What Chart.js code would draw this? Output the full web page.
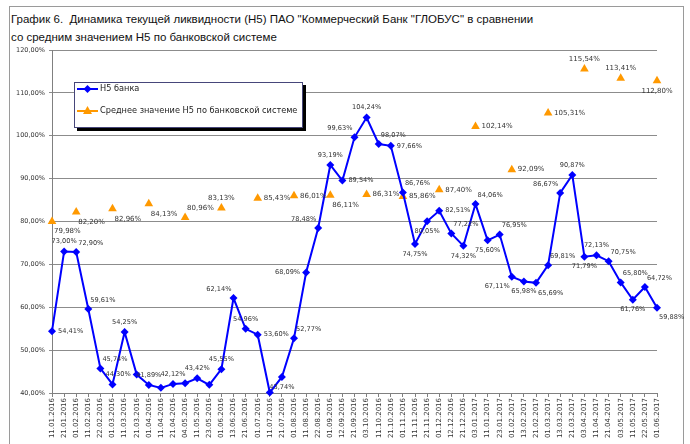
<!DOCTYPE html>
<html>
<head>
<meta charset="utf-8">
<script src="https://cdn.jsdelivr.net/npm/chart.js@4/dist/chart.umd.min.js"></script>
<style>
  html, body { margin: 0; padding: 0; background: #fff; }
  #wrap { position: relative; width: 690px; height: 444px; overflow: hidden; }
  #frame { position: absolute; left: 9px; top: 6px; width: 675px; height: 460px; border: 1px solid #9a9a9a; box-sizing: border-box; }
  #title { position: absolute; left: 11px; top: 10px; font-family: "Liberation Sans", Arial, sans-serif; font-size: 11.5px; line-height: 18px; color: #111; white-space: nowrap; }
  canvas { position: absolute; left: 0; top: 0; }
</style>
</head>
<body>
<div id="wrap">
  <div id="frame"></div>
  <div id="title">График 6.&nbsp; Динамика текущей ликвидности (Н5) ПАО "Коммерческий Банк "ГЛОБУС" в сравнении<br>со средним значением Н5 по банковской системе</div>
  <canvas id="c" width="690" height="444"></canvas>
</div>
<script>
const categories = [
  "11.01.2016","21.01.2016","01.02.2016","11.02.2016","22.02.2016","01.03.2016","11.03.2016","21.03.2016",
  "01.04.2016","11.04.2016","21.04.2016","04.05.2016","11.05.2016","23.05.2016","01.06.2016","13.06.2016",
  "21.06.2016","01.07.2016","11.07.2016","21.07.2016","01.08.2016","11.08.2016","22.08.2016","01.09.2016",
  "12.09.2016","21.09.2016","03.10.2016","11.10.2016","21.10.2016","01.11.2016","11.11.2016","21.11.2016",
  "01.12.2016","12.12.2016","21.12.2016","03.01.2017","11.01.2017","23.01.2017","01.02.2017","13.02.2017",
  "21.02.2017","01.03.2017","13.03.2017","21.03.2017","03.04.2017","11.04.2017","21.04.2017","03.05.2017",
  "11.05.2017","22.05.2017","01.06.2017"
];
const bankH5 = [
  54.41, 73.00, 72.90, 59.61, 45.74, 42.00, 54.25, 44.30,
  41.89, 41.20, 42.12, 42.30, 43.42, 41.90, 45.55, 62.14,
  54.96, 53.60, 40.10, 43.74, 52.77, 68.09, 78.48, 93.19,
  89.54, 99.63, 104.24, 98.07, 97.66, 86.76, 74.75, 80.05,
  82.51, 77.22, 74.32, 84.06, 75.60, 76.95, 67.11, 65.98,
  65.69, 69.81, 86.67, 90.87, 71.79, 72.13, 70.75, 65.80,
  61.76, 64.72, 59.88
];
const systemH5 = [
  79.98, null, 82.20, null, null, 82.96, null, null,
  84.13, null, null, 80.96, null, null, 83.13, null,
  null, 85.43, null, null, 86.01, null, null, 86.11,
  null, null, 86.31, null, null, 85.86, null, null,
  87.40, null, null, 102.14, null, null, 92.09, null,
  null, 105.31, null, null, 115.54, null, null, 113.41,
  null, null, 112.80
];
const yTicks = [40, 50, 60, 70, 80, 90, 100, 110, 120];
const seriesNames = ["Н5 банка", "Среднее значение Н5 по банковской системе"];

// label placement (layout only)
const bankLabelPos = [
  "r","t","tr","tr","tr",null,"t","l",
  "t",null,"t",null,"t",null,"t","tl",
  "t","r",null,"b","tr","l","tl","t",
  "r","tl","t","tr","r","tr","b","b",
  "r","tr","b","tr","b","tr","bl","b",
  "br","tr","tl","t","b","t","tr","tr",
  "b","tr","br"
];
const sysLabelPos = [
  "br",null,"br",null,null,"br",null,null,
  "br",null,null,"tr",null,null,"t",null,
  null,"r",null,null,"r",null,null,"br",
  null,null,"r",null,null,"r",null,null,
  "r",null,null,"r",null,null,"r",null,
  null,"r",null,null,"t",null,null,"t",
  null,null,"b"
];

const fmt = v => v.toFixed(2).replace('.', ',') + '%';

const labelPlugin = {
  id: 'valLabels',
  afterDatasetsDraw(chart) {
    const ctx = chart.ctx;
    const cfgs = [
      { pos: bankLabelPos, font: '6.6px "DejaVu Sans"' },
      { pos: sysLabelPos, font: '7px "DejaVu Sans"' }
    ];
    chart.data.datasets.forEach((ds, di) => {
      const meta = chart.getDatasetMeta(di);
      const cfg = cfgs[di];
      meta.data.forEach((pt, i) => {
        const v = ds.data[i];
        const p = cfg.pos[i];
        if (v == null || !p) return;
        let x = pt.x, y = pt.y, align = 'center';
        const d = 10;
        switch (p) {
          case 't': y -= d; break;
          case 'b': y += d; break;
          case 'r': x += 6; align = 'left'; break;
          case 'l': x -= 6; align = 'right'; break;
          case 'tr': x += 2; y -= d - 1; align = 'left'; break;
          case 'tl': x -= 2; y -= d - 1; align = 'right'; break;
          case 'br': x += 2; y += d; align = 'left'; break;
          case 'bl': x -= 2; y += d; align = 'right'; break;
        }
        ctx.save();
        ctx.font = cfg.font;
        ctx.fillStyle = '#333';
        ctx.textAlign = align;
        ctx.textBaseline = 'middle';
        ctx.fillText(fmt(v), x, y);
        ctx.restore();
      });
    });
  }
};

const legendPlugin = {
  id: 'boxLegend',
  afterDraw(chart) {
    const ctx = chart.ctx;
    const x0 = 74, y0 = 82, w = 229, h = 46;
    ctx.save();
    ctx.fillStyle = '#000';
    ctx.fillRect(x0 + 3, y0 + 3, w, h);
    ctx.fillStyle = '#fff';
    ctx.fillRect(x0, y0, w, h);
    ctx.strokeStyle = '#46467a';
    ctx.lineWidth = 1;
    ctx.strokeRect(x0 + 0.5, y0 + 0.5, w - 1, h - 1);
    let ly = 89;
    ctx.strokeStyle = '#0000ff';
    ctx.lineWidth = 2;
    ctx.beginPath(); ctx.moveTo(77, ly); ctx.lineTo(98, ly); ctx.stroke();
    ctx.fillStyle = '#0000ff';
    ctx.beginPath(); ctx.moveTo(87.5, ly - 4); ctx.lineTo(91.5, ly); ctx.lineTo(87.5, ly + 4); ctx.lineTo(83.5, ly); ctx.closePath(); ctx.fill();
    ctx.font = '8.2px "DejaVu Sans"';
    ctx.fillStyle = '#222';
    ctx.textBaseline = 'middle';
    ctx.textAlign = 'left';
    ctx.fillText(seriesNames[0], 100, ly);
    ly = 111;
    ctx.strokeStyle = '#ff9900';
    ctx.beginPath(); ctx.moveTo(77, ly); ctx.lineTo(98, ly); ctx.stroke();
    ctx.fillStyle = '#ff9900';
    ctx.beginPath(); ctx.moveTo(87.5, ly - 5); ctx.lineTo(92, ly + 3); ctx.lineTo(83, ly + 3); ctx.closePath(); ctx.fill();
    ctx.fillStyle = '#222';
    ctx.fillText(seriesNames[1], 100, ly);
    ctx.restore();
  }
};

new Chart(document.getElementById('c'), {
  type: 'line',
  data: {
    labels: categories,
    datasets: [
      {
        label: seriesNames[0],
        data: bankH5,
        borderColor: '#0000ff',
        backgroundColor: '#0000ff',
        borderWidth: 2,
        pointStyle: 'rectRot',
        pointRadius: 4,
        pointBorderWidth: 0,
        tension: 0,
        clip: false
      },
      {
        label: seriesNames[1],
        data: systemH5,
        showLine: false,
        borderColor: '#ff9900',
        backgroundColor: '#ff9900',
        pointStyle: 'triangle',
        pointRadius: 5,
        pointBorderWidth: 0,
        clip: false
      }
    ]
  },
  options: {
    responsive: false,
    animation: false,
    events: [],
    layout: { padding: { left: 0, top: 50, right: 33, bottom: 0 } },
    plugins: { legend: { display: false }, title: { display: false }, tooltip: { enabled: false } },
    scales: {
      x: {
        offset: false,
        grid: { display: true, drawOnChartArea: false, drawTicks: true, tickLength: 4, color: '#808080' },
        border: { display: true, color: '#808080', width: 1 },
        ticks: {
          autoSkip: false, maxRotation: 90, minRotation: 90, padding: 1,
          font: { family: 'DejaVu Sans', size: 7 }, color: '#333'
        },
        afterFit(scale) { scale.height = 51; }
      },
      y: {
        min: 40, max: 120,
        afterBuildTicks(scale) { scale.ticks = yTicks.map(v => ({ value: v })); },
        grid: { color: '#8c8c8c', lineWidth: 1, drawTicks: true, tickLength: 3 },
        border: { display: true, color: '#808080', width: 1 },
        ticks: {
          padding: 4,
          font: { family: 'DejaVu Sans', size: 6.5 }, color: '#333',
          callback: v => fmt(v)
        },
        afterFit(scale) { scale.width = 52; }
      }
    }
  },
  plugins: [labelPlugin, legendPlugin]
});
</script>
</body>
</html>
